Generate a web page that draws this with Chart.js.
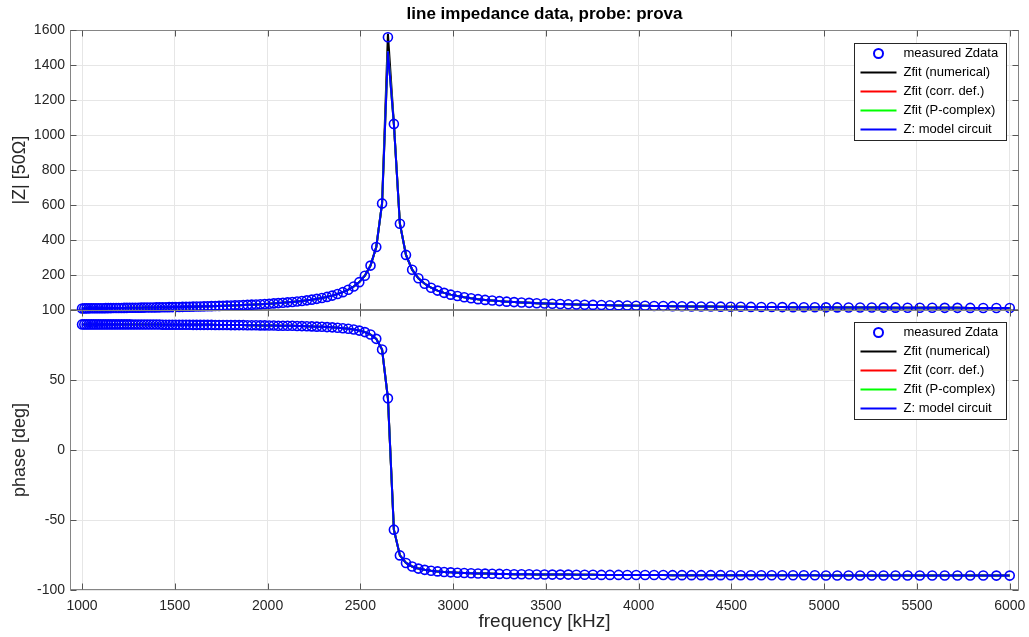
<!DOCTYPE html>
<html>
<head>
<meta charset="utf-8">
<script src="https://cdn.jsdelivr.net/npm/chart.js@4.4.1/dist/chart.umd.min.js"></script>
<style>
  html, body { margin: 0; padding: 0; background: #fff; }
  #wrap { position: relative; width: 1029px; height: 637px; overflow: hidden; }
  canvas { position: absolute; left: 0; }
  #cMag { top: 0; }
  #cPh { top: 300px; }
</style>
</head>
<body>
<div id="wrap">
  <canvas id="cMag" width="1029" height="320"></canvas>
  <canvas id="cPh" width="1029" height="337"></canvas>
</div>
<script>
// ==============================
// data
// ==============================
const freqKHz = [
  1000.0, 1012.1, 1024.3, 1036.7, 1049.3, 1062.0, 1074.8, 1087.8, 1101.0, 1114.3,
  1127.8, 1141.4, 1155.2, 1169.2, 1183.4, 1197.7, 1212.2, 1226.8, 1241.7, 1256.7,
  1271.9, 1287.3, 1302.9, 1318.6, 1334.6, 1350.7, 1367.1, 1383.6, 1400.3, 1417.3,
  1434.4, 1451.8, 1469.3, 1487.1, 1505.1, 1523.3, 1541.7, 1560.4, 1579.3, 1598.4,
  1617.7, 1637.3, 1657.1, 1677.1, 1697.4, 1718.0, 1738.7, 1759.8, 1781.1, 1802.6,
  1824.4, 1846.5, 1868.8, 1891.4, 1914.3, 1937.5, 1960.9, 1984.6, 2008.6, 2032.9,
  2057.5, 2082.4, 2107.6, 2133.1, 2158.9, 2185.0, 2211.5, 2238.2, 2265.3, 2292.7,
  2320.4, 2348.5, 2376.9, 2405.7, 2434.8, 2464.2, 2494.1, 2524.2, 2554.8, 2585.7,
  2617.0, 2648.6, 2680.7, 2713.1, 2745.9, 2779.1, 2812.8, 2846.8, 2881.2, 2916.1,
  2951.3, 2987.0, 3023.2, 3059.8, 3096.8, 3134.2, 3172.1, 3210.5, 3249.4, 3288.7,
  3328.5, 3368.7, 3409.5, 3450.7, 3492.5, 3534.7, 3577.5, 3620.8, 3664.6, 3708.9,
  3753.8, 3799.2, 3845.1, 3891.7, 3938.7, 3986.4, 4034.6, 4083.4, 4132.8, 4182.8,
  4233.4, 4284.6, 4336.5, 4388.9, 4442.0, 4495.8, 4550.2, 4605.2, 4660.9, 4717.3,
  4774.3, 4832.1, 4890.6, 4949.7, 5009.6, 5070.2, 5131.6, 5193.6, 5256.5, 5320.1,
  5384.4, 5449.5, 5515.5, 5582.2, 5649.7, 5718.1, 5787.2, 5857.3, 5928.1, 6000.0
];

const magMeas = [
  9.0, 9.1, 9.3, 9.4, 9.6, 9.8, 9.9, 10.1, 10.3, 10.4,
  10.6, 10.8, 11.0, 11.2, 11.4, 11.6, 11.8, 12.0, 12.3, 12.5,
  12.7, 13.0, 13.2, 13.5, 13.8, 14.0, 14.3, 14.6, 15.0, 15.3,
  15.6, 16.0, 16.3, 16.7, 17.1, 17.5, 17.9, 18.4, 18.8, 19.3,
  19.8, 20.4, 20.9, 21.5, 22.1, 22.8, 23.4, 24.2, 24.9, 25.7,
  26.6, 27.5, 28.5, 29.5, 30.7, 31.9, 33.2, 34.6, 36.1, 37.8,
  39.6, 41.6, 43.7, 46.2, 48.9, 51.9, 55.3, 59.2, 63.7, 68.9,
  75.0, 82.3, 91.2, 102.1, 116.1, 134.4, 159.5, 196.0, 254.1, 360.1,
  609.9, 1561, 1065, 493.9, 315.2, 230.7, 181.8, 149.9, 127.5, 110.9,
  98.1, 87.9, 79.7, 72.8, 67.0, 62.1, 57.9, 54.1, 50.8, 47.9,
  45.3, 43.0, 40.9, 38.9, 37.2, 35.6, 34.1, 32.7, 31.5, 30.3,
  29.2, 28.2, 27.2, 26.3, 25.5, 24.7, 23.9, 23.2, 22.5, 21.9,
  21.3, 20.7, 20.2, 19.6, 19.1, 18.7, 18.2, 17.8, 17.4, 17.0,
  16.6, 16.2, 15.8, 15.5, 15.2, 14.9, 14.5, 14.2, 14.0, 13.7,
  13.4, 13.1, 12.9, 12.6, 12.4, 12.2, 12.0, 11.7, 11.5, 11.3
];

const phaseMeas = [
  89.7, 89.7, 89.7, 89.7, 89.7, 89.7, 89.7, 89.7, 89.7, 89.7,
  89.7, 89.7, 89.7, 89.7, 89.7, 89.7, 89.7, 89.7, 89.7, 89.7,
  89.6, 89.6, 89.6, 89.6, 89.6, 89.6, 89.6, 89.6, 89.6, 89.6,
  89.5, 89.5, 89.5, 89.5, 89.5, 89.5, 89.5, 89.5, 89.5, 89.4,
  89.4, 89.4, 89.4, 89.4, 89.4, 89.3, 89.3, 89.3, 89.3, 89.2,
  89.2, 89.2, 89.2, 89.1, 89.1, 89.1, 89.0, 89.0, 88.9, 88.9,
  88.8, 88.8, 88.7, 88.7, 88.6, 88.5, 88.4, 88.3, 88.1, 88.0,
  87.8, 87.6, 87.3, 87.0, 86.6, 86.1, 85.3, 84.2, 82.5, 79.4,
  71.8, 36.9, -56.9, -75.3, -80.7, -83.2, -84.7, -85.6, -86.3, -86.7,
  -87.1, -87.4, -87.7, -87.9, -88.0, -88.2, -88.3, -88.4, -88.5, -88.6,
  -88.7, -88.7, -88.8, -88.9, -88.9, -89.0, -89.0, -89.0, -89.1, -89.1,
  -89.1, -89.2, -89.2, -89.2, -89.3, -89.3, -89.3, -89.3, -89.3, -89.4,
  -89.4, -89.4, -89.4, -89.4, -89.4, -89.5, -89.5, -89.5, -89.5, -89.5,
  -89.5, -89.5, -89.5, -89.5, -89.6, -89.6, -89.6, -89.6, -89.6, -89.6,
  -89.6, -89.6, -89.6, -89.6, -89.6, -89.6, -89.6, -89.6, -89.7, -89.7
];

// fitted curves only differ from the measurements at the resonance peak
const PEAK_IDX = 81;
const magFitPeak = 1580;
const magModelPeak = 1480;

const magTicks = [0, 200, 400, 600, 800, 1000, 1200, 1400, 1600];
const phaseTicks = [-100, -50, 0, 50, 100];
const freqTicks = [1000, 1500, 2000, 2500, 3000, 3500, 4000, 4500, 5000, 5500, 6000];

const seriesNames = {
  meas: "measured Zdata",
  num: "Zfit (numerical)",
  corr: "Zfit (corr. def.)",
  pcx: "Zfit (P-complex)",
  model: "Z: model circuit",
};

// ==============================
// style
// ==============================
const FONT = "'Liberation Sans', Arial, Helvetica, sans-serif";
const TXT = "#262626";
const GRID = "#e6e6e6";
const BOX = "#858585";
const X_MIN = 935;
const X_MAX = 6050;

Chart.defaults.font.family = FONT;
Chart.defaults.color = TXT;

const toXY = (ys) => freqKHz.map((f, i) => ({ x: f, y: ys[i] }));

// -------------------------
// axes box with inward ticks
// -------------------------
const axesBox = {
  id: "axesBox",
  beforeDatasetsDraw(chart) {
    const { ctx, chartArea: a, scales } = chart;
    const L = Math.round(a.left) + 0.5;
    const R = Math.round(a.right) - 0.5;
    const T = Math.round(a.top) + 0.5;
    const B = Math.round(a.bottom) - 0.5;
    const tl = 6;

    ctx.save();
    ctx.strokeStyle = BOX;
    ctx.lineWidth = 1;
    ctx.strokeRect(L, T, R - L, B - T);

    ctx.strokeStyle = "#555";
    ctx.beginPath();
    scales.x.ticks.forEach((t) => {
      const px = Math.round(scales.x.getPixelForValue(t.value)) + 0.5;
      ctx.moveTo(px, B);
      ctx.lineTo(px, B - tl);
      ctx.moveTo(px, T);
      ctx.lineTo(px, T + tl);
    });
    scales.y.ticks.forEach((t) => {
      const py = Math.round(scales.y.getPixelForValue(t.value)) + 0.5;
      ctx.moveTo(L, py);
      ctx.lineTo(L + tl, py);
      ctx.moveTo(R, py);
      ctx.lineTo(R - tl, py);
    });
    ctx.stroke();
    ctx.restore();
  },
};

// -------------------------
// legend box in the upper right
// -------------------------
const legendBox = {
  id: "legendBox",
  afterDraw(chart, args, opts) {
    const { ctx, chartArea: a } = chart;
    const rowH = 19;
    const w = 152;
    const h = rowH * opts.order.length + 2;
    const x0 = Math.round(a.right - 13 - w) + 0.5;
    const y0 = Math.round(a.top + opts.top) + 0.5;

    ctx.save();
    ctx.fillStyle = "#fff";
    ctx.fillRect(x0, y0, w, h);
    ctx.strokeStyle = "#262626";
    ctx.lineWidth = 1;
    ctx.strokeRect(x0, y0, w, h);

    ctx.font = "13px " + FONT;
    ctx.textBaseline = "middle";
    ctx.textAlign = "left";

    opts.order.forEach((di, i) => {
      const ds = chart.data.datasets[di];
      const cy = y0 + 10 + i * rowH;
      if (ds.showLine === false) {
        ctx.beginPath();
        ctx.arc(x0 + 24, cy, 4.5, 0, Math.PI * 2);
        ctx.strokeStyle = ds.pointBorderColor;
        ctx.lineWidth = 2;
        ctx.stroke();
      } else {
        ctx.beginPath();
        ctx.moveTo(x0 + 6, cy);
        ctx.lineTo(x0 + 42, cy);
        ctx.strokeStyle = ds.borderColor;
        ctx.lineWidth = 2;
        ctx.stroke();
      }
      ctx.fillStyle = "#000";
      ctx.fillText(ds.label, x0 + 49, cy);
    });
    ctx.restore();
  },
};

// ==============================
// datasets (index 0 is drawn on top)
// ==============================
function buildDatasets(meas, fitNum, model) {
  const line = (label, data, color) => ({
    label,
    data: toXY(data),
    borderColor: color,
    borderWidth: 2,
    pointRadius: 0,
    tension: 0,
    clip: false,
  });
  return [
    {
      label: seriesNames.meas,
      data: toXY(meas),
      showLine: false,
      pointStyle: "circle",
      pointRadius: 4.5,
      pointBorderWidth: 1.6,
      pointBorderColor: "#0000ff",
      pointBackgroundColor: "rgba(0,0,0,0)",
      clip: false,
    },
    line(seriesNames.model, model, "#0000ff"),
    line(seriesNames.pcx, model, "#00ff00"),
    line(seriesNames.corr, model, "#ff0000"),
    line(seriesNames.num, fitNum, "#000000"),
  ];
}

const magFitNum = magMeas.map((v, i) => (i === PEAK_IDX ? magFitPeak : v));
const magModel = magMeas.map((v, i) => (i === PEAK_IDX ? magModelPeak : v));

const tickFont = { family: FONT, size: 14 };

// no label overhang padding: the plot boxes are pinned by layout padding
function noOverhang(s) {
  s.paddingTop = 0;
  s.paddingBottom = 0;
  s.paddingLeft = 0;
  s.paddingRight = 0;
}

function yScale(ticks, title) {
  return {
    type: "linear",
    min: ticks[0],
    max: ticks[ticks.length - 1],
    afterBuildTicks: (s) => { s.ticks = ticks.map((v) => ({ value: v })); },
    afterFit: (s) => { s.width = 70; noOverhang(s); },
    ticks: {
      color: TXT,
      font: tickFont,
      padding: 5,
      callback: (v) => (v === 0 && ticks[0] === 0 ? "" : String(v)),
    },
    grid: { color: GRID, drawTicks: false },
    border: { display: false },
    title: {
      display: true,
      text: title,
      color: TXT,
      font: { family: FONT, size: 18 },
      padding: { top: 9, bottom: 0 },
    },
  };
}

function xScale(showLabels) {
  return {
    type: "linear",
    min: X_MIN,
    max: X_MAX,
    afterBuildTicks: (s) => { s.ticks = freqTicks.map((v) => ({ value: v })); },
    afterFit: (s) => { s.height = showLabels ? 47 : 10; noOverhang(s); },
    ticks: {
      display: showLabels,
      color: TXT,
      font: tickFont,
      padding: 8,
      maxRotation: 0,
      callback: (v) => String(v),
    },
    grid: { color: GRID, drawTicks: false },
    border: { display: false },
    title: {
      display: showLabels,
      text: "frequency [kHz]",
      color: TXT,
      font: { family: FONT, size: 19 },
      padding: { top: 0, bottom: 4 },
    },
  };
}

const commonOpts = {
  responsive: false,
  animation: false,
  devicePixelRatio: 1,
  events: [],
};

// ==============================
// |Z| subplot
// ==============================
new Chart(document.getElementById("cMag"), {
  type: "line",
  data: { datasets: buildDatasets(magMeas, magFitNum, magModel) },
  options: {
    ...commonOpts,
    layout: { padding: { left: 0, right: 10, top: 0, bottom: 0 } },
    plugins: {
      legend: { display: false },
      tooltip: { enabled: false },
      title: {
        display: true,
        fullSize: false,
        text: "line impedance data, probe: prova",
        color: "#000",
        font: { family: FONT, size: 17, weight: "bold" },
        padding: { top: 4, bottom: 6 },
      },
      legendBox: { order: [0, 4, 3, 2, 1], top: 13 },
    },
    scales: {
      x: xScale(false),
      y: yScale(magTicks, "|Z| [50\u03A9]"),
    },
  },
  plugins: [axesBox, legendBox],
});

// ==============================
// phase subplot
// ==============================
new Chart(document.getElementById("cPh"), {
  type: "line",
  data: { datasets: buildDatasets(phaseMeas, phaseMeas, phaseMeas) },
  options: {
    ...commonOpts,
    layout: { padding: { left: 0, right: 10, top: 10, bottom: 0 } },
    plugins: {
      legend: { display: false },
      tooltip: { enabled: false },
      legendBox: { order: [0, 4, 3, 2, 1], top: 12 },
    },
    scales: {
      x: xScale(true),
      y: yScale(phaseTicks, "phase [deg]"),
    },
  },
  plugins: [axesBox, legendBox],
});
</script>
</body>
</html>
